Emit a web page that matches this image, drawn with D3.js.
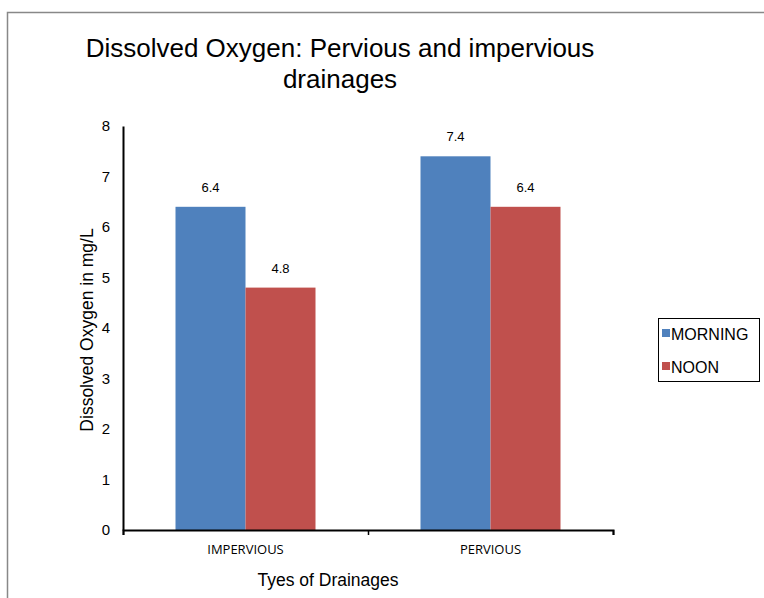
<!DOCTYPE html>
<html>
<head>
<meta charset="utf-8">
<script src="https://cdn.jsdelivr.net/npm/d3@7"></script>
<style>
  body { margin: 0; background: #fff; }
  text { font-family: Arial, "Liberation Sans", sans-serif; fill: #000; }
</style>
</head>
<body>
<svg id="chart"></svg>
<script>
var categories = ["IMPERVIOUS", "PERVIOUS"];
var seriesNames = ["MORNING", "NOON"];
var morning = [6.4, 7.4];
var noon = [4.8, 6.4];
var yTicks = [0, 1, 2, 3, 4, 5, 6, 7, 8];
var colors = ["#4F81BD", "#C0504D"];

var width = 764, height = 598;
var svg = d3.select("#chart").attr("width", width).attr("height", height);

// outer chart border
svg.append("rect")
    .attr("x", 7.5).attr("y", 12.5)
    .attr("width", width).attr("height", height)
    .attr("fill", "none").attr("stroke", "#888").attr("stroke-width", 1.5);

var plotLeft = 123, plotRight = 613, plotTop = 126, plotBottom = 530;

var x = d3.scaleBand().domain(categories).range([plotLeft, plotRight]);
var xs = d3.scaleBand().domain(seriesNames)
    .range([52.5, x.bandwidth() - 52.5]);
var y = d3.scaleLinear().domain([0, 8]).range([plotBottom, plotTop]);

// title
var title = svg.append("text").attr("text-anchor", "middle")
    .style("font-size", "26px");
title.append("tspan").attr("x", 340).attr("y", 57).text("Dissolved Oxygen: Pervious and impervious");
title.append("tspan").attr("x", 340).attr("y", 88).text("drainages");

// bars
var data = categories.map(function(c, i) {
  return [{cat: c, s: "MORNING", v: morning[i], c: colors[0]},
          {cat: c, s: "NOON", v: noon[i], c: colors[1]}];
});

var groups = svg.selectAll("g.cat").data(data).enter().append("g")
    .attr("class", "cat")
    .attr("transform", function(d, i) { return "translate(" + x(categories[i]) + ",0)"; });

groups.selectAll("rect").data(function(d) { return d; }).enter().append("rect")
    .attr("x", function(d) { return xs(d.s); })
    .attr("width", xs.bandwidth())
    .attr("y", function(d) { return y(d.v); })
    .attr("height", function(d) { return plotBottom - y(d.v); })
    .attr("fill", function(d) { return d.c; });

groups.selectAll("text.lbl").data(function(d) { return d; }).enter().append("text")
    .attr("class", "lbl")
    .attr("x", function(d) { return xs(d.s) + xs.bandwidth() / 2; })
    .attr("y", function(d) { return y(d.v) - 15; })
    .attr("text-anchor", "middle")
    .style("font-size", "13px")
    .text(function(d) { return d.v.toFixed(1); });

// y axis
var yAxis = svg.append("g")
    .attr("transform", "translate(" + plotLeft + ",0)")
    .call(d3.axisLeft(y).tickValues(yTicks).tickSize(0).tickPadding(13));
yAxis.select(".domain").attr("stroke", "#000").attr("stroke-width", 2);
yAxis.selectAll("text").style("font-size", "15px")
    .style("font-family", "Arial, 'Liberation Sans', sans-serif");

// x axis
var xAxis = svg.append("g")
    .attr("transform", "translate(0," + plotBottom + ")")
    .call(d3.axisBottom(d3.scaleLinear().domain([0, 2]).range([plotLeft, plotRight]))
      .tickValues([0, 1, 2]).tickSize(5).tickFormat(""));
xAxis.select(".domain").attr("stroke", "#000").attr("stroke-width", 2);
xAxis.selectAll(".tick line").attr("stroke", "#000").attr("stroke-width", 1.5);

svg.selectAll("text.xl").data(categories).enter().append("text")
    .attr("class", "xl")
    .attr("x", function(d) { return x(d) + x.bandwidth() / 2; })
    .attr("y", 554)
    .attr("text-anchor", "middle")
    .style("font-family", "'Open Sans', sans-serif")
    .style("font-size", "13px")
    .text(function(d) { return d; });

// axis titles
svg.append("text")
    .attr("x", 328).attr("y", 586)
    .attr("text-anchor", "middle")
    .style("font-size", "17.5px")
    .text("Tyes of Drainages");

svg.append("text")
    .attr("transform", "translate(93,330) rotate(-90)")
    .attr("text-anchor", "middle")
    .style("font-size", "17.5px")
    .text("Dissolved Oxygen in mg/L");

// legend
var legend = svg.append("g");
legend.append("rect")
    .attr("x", 658.5).attr("y", 318.5).attr("width", 101).attr("height", 63)
    .attr("fill", "#fff").attr("stroke", "#000").attr("stroke-width", 1);
seriesNames.forEach(function(s, i) {
  legend.append("rect").attr("x", 662).attr("y", 329 + i * 33)
      .attr("width", 8).attr("height", 8).attr("fill", colors[i]);
  legend.append("text").attr("x", 671).attr("y", 340 + i * 33)
      .style("font-size", "16px").text(s);
});
</script>
</body>
</html>
